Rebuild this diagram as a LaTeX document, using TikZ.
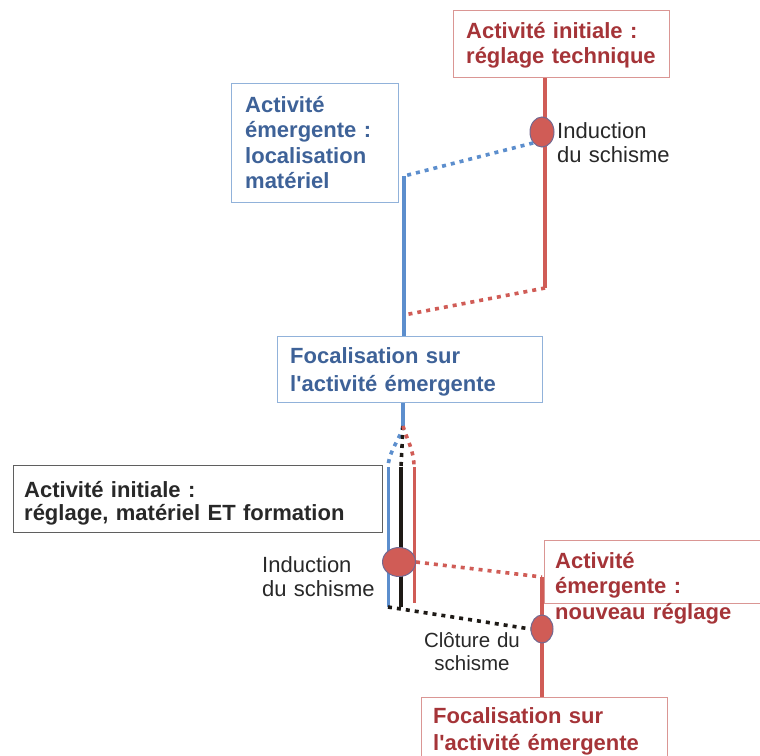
\documentclass[tikz,border=0pt]{standalone}
\usepackage{fontspec}
\setmainfont{Liberation Sans}[Ligatures=TeXOff]
\usetikzlibrary{shapes.geometric}
\definecolor{redln}{RGB}{208,92,86}
\definecolor{redtx}{RGB}{165,52,56}
\definecolor{redbx}{RGB}{218,150,148}
\definecolor{blueln}{RGB}{92,142,205}
\definecolor{bluetx}{RGB}{62,98,152}
\definecolor{bluebx}{RGB}{145,178,218}
\definecolor{graybx}{RGB}{95,95,95}
\definecolor{darktx}{RGB}{40,40,40}
\definecolor{blackln}{RGB}{30,26,22}
\definecolor{circbd}{RGB}{115,105,145}
\begin{document}
\begin{tikzpicture}[x=1pt,y=-1pt,
  boxr/.style={draw=redbx, line width=1.3pt, inner sep=0, anchor=north west},
  boxb/.style={draw=bluebx, line width=1.3pt, inner sep=0, anchor=north west},
  boxk/.style={draw=graybx, line width=1.3pt, inner sep=0, anchor=north west},
  lab/.style={anchor=base west, inner sep=0, text width=450pt, align=left,
    font=\fontsize{22}{25.5}\selectfont\bfseries},
  plain/.style={anchor=base west, inner sep=0, text width=200pt, align=left,
    font=\fontsize{22}{24.5}\selectfont, text=darktx},
  redsolid/.style={draw=redln, line width=4pt},
  bluesolid/.style={draw=blueln, line width=4pt},
  reddots/.style={draw=redln, line width=3.6pt, dash pattern=on 4pt off 5pt},
  bluedots/.style={draw=blueln, line width=3.6pt, dash pattern=on 4pt off 5pt},
  blackdots/.style={draw=blackln, line width=3.6pt, dash pattern=on 4pt off 5pt},
  dot/.style={ellipse, fill=redln, draw=circbd, line width=1pt, inner sep=0},
]
\useasboundingbox (0,0) rectangle (760,755);

% ---- boxes ----
\node[boxr, minimum width=216pt, minimum height=67pt] (redtop) at (453,10) {};
\node[boxb, minimum width=167pt, minimum height=119pt] (blueemg) at (231,83) {};
\node[boxb, minimum width=265pt, minimum height=66pt] (bluefoc) at (277,336) {};
\node[boxk, minimum width=369pt, minimum height=67pt] (blackbox) at (13,465) {};
\node[boxr, minimum width=240pt, minimum height=63pt] (redemg) at (544,540) {};
\node[boxr, minimum width=246pt, minimum height=63pt] (redfoc) at (421,697) {};

% ---- junction coordinates ----
\coordinate (rA) at (545,288);
\coordinate (bA) at (404,176);
\coordinate (bB) at (404,315);
\coordinate (fork) at (403,426);
\coordinate (bS) at (388,467);
\coordinate (kS) at (401,467);
\coordinate (rS) at (414,467);
\coordinate (bE) at (388,607);
\coordinate (kE) at (401,607);
\coordinate (rE) at (414,603);
\coordinate (rL) at (542,577);

% ---- upper part ----
\draw[redsolid] (redtop.south -| rA) -- (rA);
\node[dot, minimum width=24pt, minimum height=30pt] (c1) at (542,132) {};
\draw[bluedots] (c1.south west) -- (bA);
\draw[bluesolid] (bA) -- (bluefoc.north -| bA);
\draw[reddots] (rA) -- (bB);

% ---- fork ----
\draw[bluesolid] (bluefoc.south -| fork) -- (fork);
\draw[bluedots] (fork) .. controls (400,440) and (389,450) .. (bS);
\draw[blackdots] (fork) -- (kS);
\draw[reddots] (fork) .. controls (407,440) and (414,450) .. (rS);
\draw[draw=blueln, line width=3pt] (bS) -- (bE);
\draw[draw=blackln, line width=3.4pt] (kS) -- (kE);
\draw[draw=redln, line width=3pt] (rS) -- (rE);

% ---- lower part ----
\draw[redsolid] (rL) -- (redfoc.north -| rL);
\node[dot, minimum width=33pt, minimum height=29pt] (c2) at (399,562) {};
\node[dot, minimum width=22pt, minimum height=28pt] (c3) at (542,629) {};
\draw[reddots] (c2.east) -- (rL);
\draw[blackdots] (bE) -- (c3.west);

% ---- texts ----
\node[lab, text=redtx] (t1) at (466,38) {Activité initiale :\\réglage technique};
\node[lab, text=bluetx] (t2) at (245,112) {Activité\\émergente :\\localisation\\matériel};
\node[lab, text=bluetx, font=\fontsize{22}{28}\selectfont\bfseries] (t3) at (290,363) {Focalisation sur\\l'activité émergente};
\node[lab, text=darktx, font=\fontsize{22}{23}\selectfont\bfseries] (t4) at (24,497) {Activité initiale :\\réglage, matériel ET formation};
\node[lab, text=redtx] (t5) at (555,568) {Activité\\émergente :\\nouveau réglage};
\node[lab, text=redtx, font=\fontsize{22}{27}\selectfont\bfseries] (t6) at (433,723) {Focalisation sur\\l'activité émergente};
\node[plain] (i1) at (557,138) {Induction\\du schisme};
\node[plain] (i2) at (262,572) {Induction\\du schisme};
\node[anchor=base, inner sep=0, text width=160pt, align=center, text=darktx,
  font=\fontsize{20.5}{23}\selectfont] (cl) at (472,647) {Clôture du\\schisme};
\end{tikzpicture}
\end{document}
